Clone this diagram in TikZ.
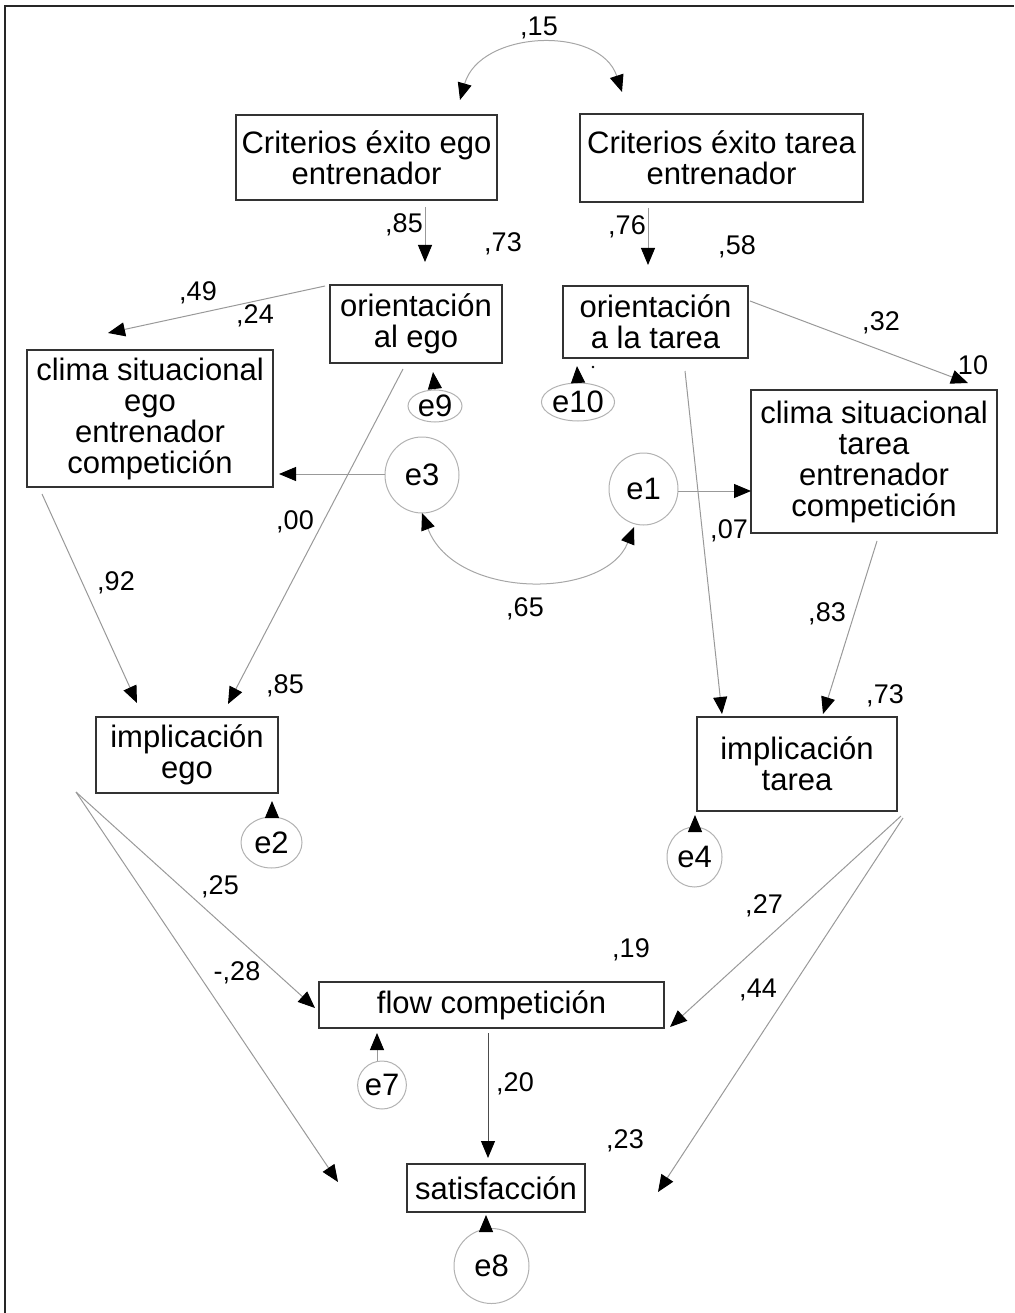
\documentclass[tikz,border=0pt]{standalone}
\usepackage{fontspec}
\setmainfont{Liberation Sans}
\usetikzlibrary{arrows.meta,shapes.geometric}
\newcommand\bxfont{\fontsize{31}{31}\selectfont}
\newcommand\lbfont{\fontsize{27}{27}\selectfont}
\tikzset{
  box/.style={draw=black!80, line width=1.3pt, inner sep=0pt, align=center, font=\bxfont},
  err/.style={ellipse, draw=black!30, line width=1pt, inner sep=0pt, font=\bxfont},
  lab/.style={font=\lbfont, inner sep=0pt},
  tipk/.tip={Triangle[length=17pt,width=14pt,color=black]},
  conn/.style={draw=black!40, line width=1pt, -tipk},
  dconn/.style={draw=black!70, line width=1pt, -tipk},
  cov/.style={draw=black!35, line width=1pt, tipk-tipk},
}
\begin{document}
\begin{tikzpicture}[x=1pt,y=-1pt]
\useasboundingbox (0,0) rectangle (1014,1313);
\draw[line width=2pt, black!85] (5,1313) -- (5,6) -- (1014,6);

% boxes
\node[box, minimum width=261, minimum height=85] (cee) at (366.5,157.5) {Criterios éxito ego\\entrenador};
\node[box, minimum width=283, minimum height=88] (cet) at (721.5,158) {Criterios éxito tarea\\entrenador};
\node[box, minimum width=172, minimum height=78] (oe) at (416,324) {orientación\\al ego};
\node[box, minimum width=185, minimum height=72] (ot) at (655.5,322) {orientación\\a la tarea};
\node[box, minimum width=246, minimum height=137] (ce) at (150,418.5) {clima situacional\\ego\\entrenador\\competición};
\node[box, minimum width=246, minimum height=143] (ct) at (874,461.5) {clima situacional\\tarea\\entrenador\\competición};
\node[box, minimum width=182, minimum height=76] (ie) at (187,755) {implicación\\ego};
\node[box, minimum width=200, minimum height=94] (it) at (797,764) {implicación\\tarea};
\node[box, minimum width=345, minimum height=46] (fl) at (491.5,1005) {flow competición};
\node[box, minimum width=178, minimum height=48] (sa) at (496,1188) {satisfacción};

% error terms
\node[err, minimum width=54, minimum height=32] (e9) at (435,406) {e9};
\node[err, minimum width=60, minimum height=38] (e10) at (578,402) {e10};
\node[err, minimum width=74, minimum height=76] (e3) at (422,475) {e3};
\node[err, minimum width=69, minimum height=72] (e1) at (643.5,489) {e1};
\node[err, minimum width=61, minimum height=51] (e2) at (271.5,842.5) {e2};
\node[err, minimum width=55, minimum height=60] (e4) at (694.5,857) {e4};
\node[err, minimum width=48, minimum height=48] (e7) at (382,1085) {e7};
\node[err, minimum width=75, minimum height=75] (e8) at (491.5,1266) {e8};

% connectors
\draw[cov] ([shift={(93.5,-57.5)}]cee.center) .. controls (480,30) and (600,25) .. ([shift={(-99.5,-66)}]cet.center);
\draw[conn] ([shift={(58.5,49.5)}]cee.center) -- ([shift={(9,-62)}]oe.center);
\draw[conn] ([shift={(-73.5,50)}]cet.center) -- ([shift={(-7.5,-57)}]ot.center);
\draw[conn] ([shift={(-91,-38)}]oe.center) -- ([shift={(-42,-85.5)}]ce.center);
\draw[conn] ([shift={(-13,45)}]oe.center) -- ([shift={(41,-51)}]ie.center);
\draw[dconn] (e9.north) -- ([shift={(17,48)}]oe.center);
\draw[dconn] (e10.north) -- ([shift={(-78.5,44)}]ot.center);
\draw[conn] ([shift={(-37,-1)}]e3.center) -- ([shift={(129,55.5)}]ce.center);
\draw[conn] ([shift={(34.5,2)}]e1.center) -- ([shift={(-123,29.5)}]ct.center);
\draw[cov] ([shift={(0,38)}]e3.center) .. controls (455,600) and (605,600) .. ([shift={(-9.5,38)}]e1.center);
\draw[conn] ([shift={(94.5,-21)}]ot.center) -- ([shift={(94,-78.5)}]ct.center);
\draw[conn] ([shift={(29.5,49)}]ot.center) -- ([shift={(-75,-50)}]it.center);
\draw[conn] ([shift={(-108,75.5)}]ce.center) -- ([shift={(-50,-52)}]ie.center);
\draw[conn] ([shift={(3,79.5)}]ct.center) -- ([shift={(26,-50)}]it.center);
\draw[dconn] ([shift={(0.5,-26)}]e2.center) -- ([shift={(85,46)}]ie.center);
\draw[dconn] ([shift={(0.5,-29)}]e4.center) -- ([shift={(-102,51)}]it.center);
\draw[conn] ([shift={(-111,37)}]ie.center) -- ([shift={(-176.5,3)}]fl.center);
\draw[conn] ([shift={(-111,37)}]ie.center) -- ([shift={(-158,-6)}]sa.center);
\draw[conn] ([shift={(104,52)}]it.center) -- ([shift={(178.5,22)}]fl.center);
\draw[conn] ([shift={(106,54)}]it.center) -- ([shift={(162,4)}]sa.center);
\draw[dconn] ([shift={(-3.5,28)}]fl.center) -- ([shift={(-8,-30)}]sa.center);
\draw[conn] ([shift={(-5,-24)}]e7.center) -- ([shift={(-114.5,28)}]fl.center);
\draw[dconn] ([shift={(-5.5,-37)}]e8.center) -- ([shift={(-10,27)}]sa.center);
\fill[black] ([shift={(-62.5,45)}]ot.center) circle (1.3);

% labels
\node[lab] (l15) at (539,28) {,15};
\node[lab] (l85a) at (404,225) {,85};
\node[lab] (l73a) at (503,244) {,73};
\node[lab] (l76) at (627,227) {,76};
\node[lab] (l58) at (737,247) {,58};
\node[lab] (l49) at (198,293) {,49};
\node[lab] (l24) at (255,316) {,24};
\node[lab] (l32) at (881,323) {,32};
\node[lab] (l10) at (973,365) {10};
\node[lab] (l00) at (295,522) {,00};
\node[lab] (l07) at (729,531) {,07};
\node[lab] (l65) at (525,609) {,65};
\node[lab] (l92) at (116,583) {,92};
\node[lab] (l83) at (827,614) {,83};
\node[lab] (l85b) at (285,686) {,85};
\node[lab] (l73b) at (885,696) {,73};
\node[lab] (l25) at (220,887) {,25};
\node[lab] (l28) at (237,973) {-,28};
\node[lab] (l27) at (764,906) {,27};
\node[lab] (l19) at (631,950) {,19};
\node[lab] (l44) at (758,990) {,44};
\node[lab] (l20) at (515,1084) {,20};
\node[lab] (l23) at (625,1141) {,23};
\end{tikzpicture}
\end{document}
